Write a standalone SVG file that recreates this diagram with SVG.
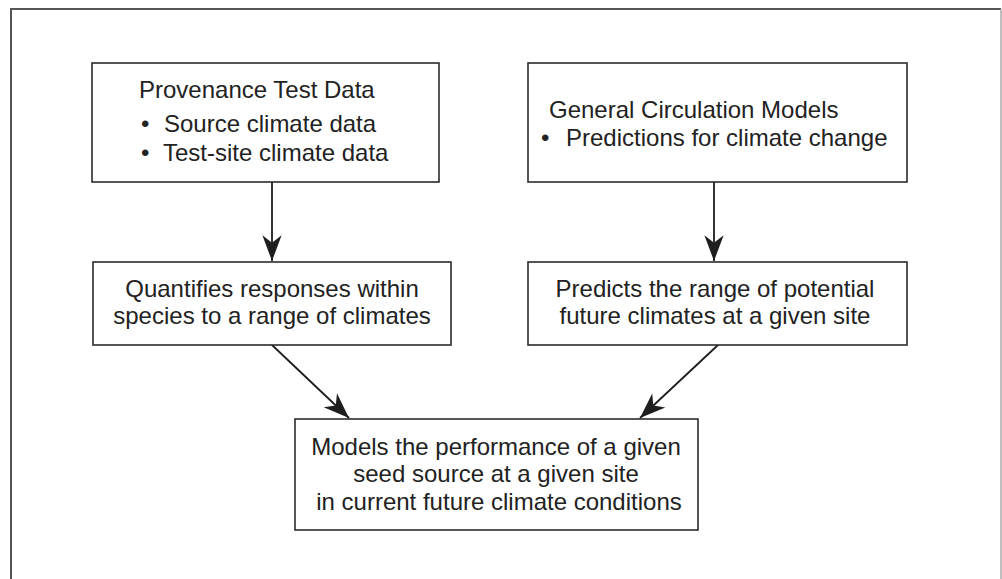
<svg xmlns="http://www.w3.org/2000/svg" width="1002" height="579" viewBox="0 0 1002 579">
<style>
.box{fill:#fff;stroke:#2b2b2b;stroke-width:1.6}
.t{font-family:"Liberation Sans",Arial,sans-serif;font-size:24px;fill:#222}
.c{text-anchor:middle}
.conn{stroke:#1e1e1e;stroke-width:1.8;fill:none;marker-end:url(#ah)}
</style>
<defs>
<marker id="ah" markerUnits="userSpaceOnUse" markerWidth="30" markerHeight="30" viewBox="-26 -12 28 24" refX="0" refY="0" orient="auto">
<path d="M0,0 L-24,-9 L-17,0 L-24,9 Z" fill="#1e1e1e"/>
</marker>
</defs>
<rect width="1002" height="579" fill="#fff"/>
<g id="frame">
<path d="M11,579 V9 H1001" fill="none" stroke="#555" stroke-width="2"/>
<path d="M1001,9 V579" fill="none" stroke="#aaa" stroke-width="1.5"/>
</g>
<g id="connectors">
<line class="conn" x1="272" y1="182" x2="272" y2="261"/>
<line class="conn" x1="714" y1="182" x2="714" y2="261"/>
<line class="conn" x1="272" y1="345" x2="349" y2="418"/>
<line class="conn" x1="718" y1="345" x2="640" y2="418"/>
</g>
<g id="provenance">
<rect class="box" x="92" y="63" width="347" height="119"/>
<text class="t" x="139" y="98">Provenance Test Data</text>
<text class="t" x="141" y="132">•</text>
<text class="t" x="164" y="132">Source climate data</text>
<text class="t" x="141" y="161">•</text>
<text class="t" x="163" y="161">Test-site climate data</text>
</g>
<g id="gcm">
<rect class="box" x="528" y="63" width="379" height="119"/>
<text class="t" x="549" y="118">General Circulation Models</text>
<text class="t" x="541" y="146">•</text>
<text class="t" x="566" y="146">Predictions for climate change</text>
</g>
<g id="quantifies">
<rect class="box" x="93" y="262" width="358" height="83"/>
<text class="t c" x="272" y="297">Quantifies responses within</text>
<text class="t c" x="272" y="324">species to a range of climates</text>
</g>
<g id="predicts">
<rect class="box" x="528" y="262" width="379" height="83"/>
<text class="t c" x="715" y="297">Predicts the range of potential</text>
<text class="t c" x="715" y="324">future climates at a given site</text>
</g>
<g id="models">
<rect class="box" x="295" y="419" width="403" height="111"/>
<text class="t c" x="496" y="455">Models the performance of a given</text>
<text class="t c" x="496" y="482">seed source at a given site</text>
<text class="t c" x="499" y="510">in current future climate conditions</text>
</g>
</svg>
